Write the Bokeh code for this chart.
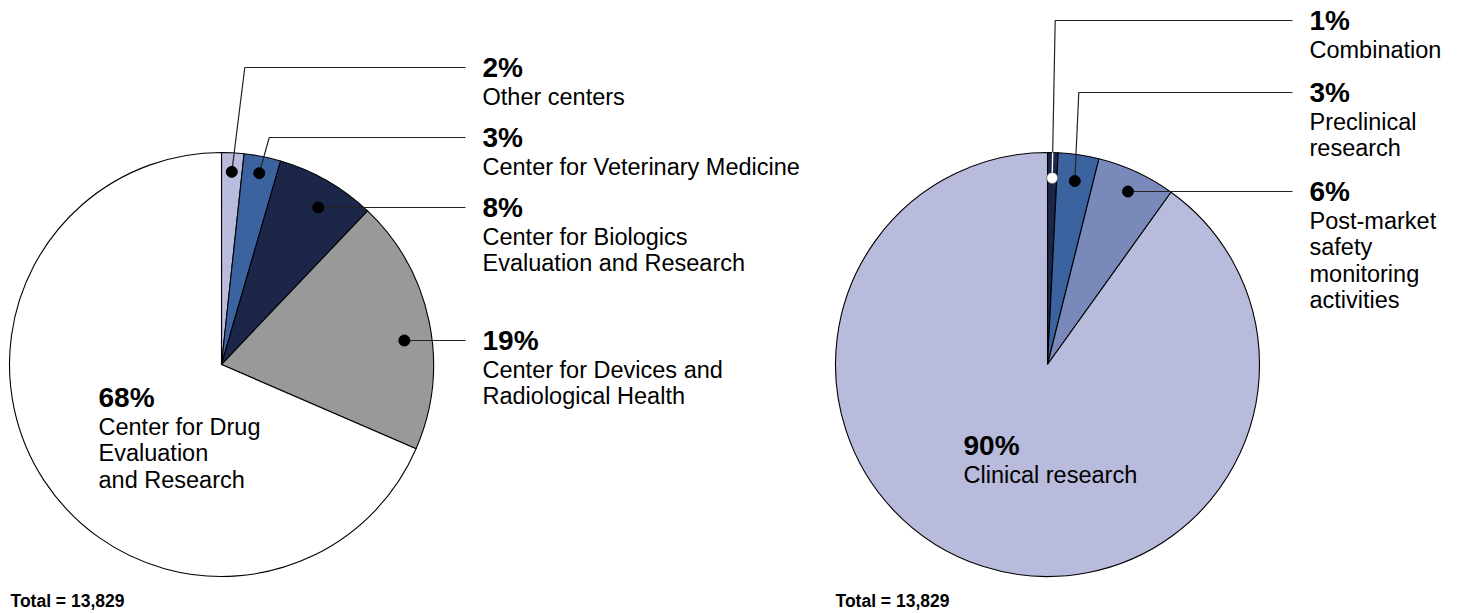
import numpy as np
from bokeh.plotting import figure
from bokeh.models import Range1d
from bokeh.embed import file_html
from bokeh.resources import INLINE
from bokeh.core.properties import value

# ---------------- data ----------------
# slice shares as read from the pie angles; labels are the rounded figures shown
left_values = [1.7, 2.8, 7.6, 19.4, 68.5]
left_pct = ["2%", "3%", "8%", "19%", "68%"]
left_desc = [["Other centers"],
             ["Center for Veterinary Medicine"],
             ["Center for Biologics", "Evaluation and Research"],
             ["Center for Devices and", "Radiological Health"],
             ["Center for Drug", "Evaluation", "and Research"]]
left_colors = ["#b8bbdb", "#3a63a0", "#1b2648", "#999999", "#ffffff"]

right_values = [0.8, 3.1, 6.0, 90.1]
right_pct = ["1%", "3%", "6%", "90%"]
right_desc = [["Combination"],
              ["Preclinical", "research"],
              ["Post-market", "safety", "monitoring", "activities"],
              ["Clinical research"]]
right_colors = ["#1b2648", "#3a63a0", "#7889ba", "#b8bbdb"]

total_label = "Total = 13,829"

# ---------------- layout (screen px) ----------------
W, H = 1444, 613
def dx(sx):
    return sx
def dy(sy):
    return H - sy

R = 212
FONT = value("Liberation Sans")
PCT_SIZE = "28px"
DESC_SIZE = "23.5px"
LINE_COL = "#222222"

p = figure(width=W, height=H, output_backend="svg", toolbar_location=None,
           x_range=Range1d(0, W), y_range=Range1d(0, H), min_border=0,
           background_fill_color="white", border_fill_color="white")
p.axis.visible = False
p.grid.visible = False
p.outline_line_color = None


def draw_pie(cx_s, cy_s, values, colors, pct, desc, outside_idx, label_ys, elbow_off,
             dot_r, line_end_s, label_x_s, inside_idx, inside_xy, dot_fill):
    cx, cy = dx(cx_s), dy(cy_s)
    vals = np.array(values, dtype=float)
    cum = np.cumsum(vals)
    prev = cum - vals
    total = vals.sum()
    starts = np.pi / 2 - 2 * np.pi * prev / total
    ends = np.pi / 2 - 2 * np.pi * cum / total
    p.wedge(x=cx, y=cy, radius=R, start_angle=list(starts), end_angle=list(ends),
            direction="clock", fill_color=colors, line_color="black", line_width=1.1)

    mids = np.pi / 2 - 2 * np.pi * (prev + vals / 2) / total

    line_end = dx(line_end_s)
    lab_x = dx(label_x_s)
    for k, i in enumerate(outside_idx):
        ly_d = dy(label_ys[k])
        r = dot_r[k] * R
        if elbow_off[k] is None:
            # dot sits on the label's line inside the slice
            y0 = ly_d
            x0 = cx + np.sqrt(max(r * r - (y0 - cy) ** 2, 0.0))
            xs = [x0, line_end]
            ys = [y0, y0]
        else:
            x0 = cx + r * np.cos(mids[i])
            y0 = cy + r * np.sin(mids[i])
            ex = x0 + elbow_off[k]
            xs = [x0, ex, line_end]
            ys = [y0, ly_d, ly_d]
        p.line(xs, ys, line_color=LINE_COL, line_width=1.2)
        if dot_fill[k] == "white":
            # white part of the leader inside the pie
            ax, ay = xs[1] - x0, ys[1] - y0
            fx, fy = x0 - cx, y0 - cy
            a = ax * ax + ay * ay
            b = 2 * (fx * ax + fy * ay)
            c = fx * fx + fy * fy - R * R
            t = (-b + np.sqrt(b * b - 4 * a * c)) / (2 * a)
            p.line([x0, x0 + t * ax], [y0, y0 + t * ay], line_color="white", line_width=1.4)
            p.scatter([x0], [y0], size=11, fill_color="white", line_color="#555555", line_width=0.6)
        else:
            p.scatter([x0], [y0], size=11, fill_color="black", line_color="black")
        p.text([lab_x], [ly_d], text=[pct[i]], text_font=FONT, text_font_size=PCT_SIZE,
               text_font_style="bold", text_baseline="middle", text_color="black")
        lines = desc[i]
        ys_t = [ly_d - 29 - 26.5 * j for j in range(len(lines))]
        p.text([lab_x] * len(lines), ys_t, text=lines, text_font=FONT, text_font_size=DESC_SIZE,
               text_baseline="middle", text_color="black")

    ix, iy = inside_xy
    ix, iy = dx(ix), dy(iy)
    p.text([ix], [iy], text=[pct[inside_idx]], text_font=FONT, text_font_size=PCT_SIZE,
           text_font_style="bold", text_baseline="middle", text_color="black")
    lines = desc[inside_idx]
    ys_t = [iy - 29 - 26.5 * j for j in range(len(lines))]
    p.text([ix] * len(lines), ys_t, text=lines, text_font=FONT, text_font_size=DESC_SIZE,
           text_baseline="middle", text_color="black")


# left pie
draw_pie(221, 364, left_values, left_colors, left_pct, left_desc,
         outside_idx=[0, 1, 2, 3], label_ys=[67, 137, 207, 340],
         elbow_off=[13, 10, None, None], dot_r=[0.91, 0.92, 0.87, 0.87],
         line_end_s=465, label_x_s=482, inside_idx=4, inside_xy=(98, 397),
         dot_fill=["black", "black", "black", "black"])

# right pie
draw_pie(1047, 364, right_values, right_colors, right_pct, right_desc,
         outside_idx=[0, 1, 2], label_ys=[20, 92, 191],
         elbow_off=[3, 4, None], dot_r=[0.88, 0.875, 0.9],
         line_end_s=1292, label_x_s=1309, inside_idx=3, inside_xy=(963, 445),
         dot_fill=["white", "black", "black"])

# totals
p.text([dx(10), dx(835)], [dy(600), dy(600)], text=[total_label, total_label], text_font=FONT,
       text_font_size="17.5px", text_font_style="bold", text_baseline="middle",
       text_color="black")

open("out.html", "w").write(file_html(p, INLINE))
